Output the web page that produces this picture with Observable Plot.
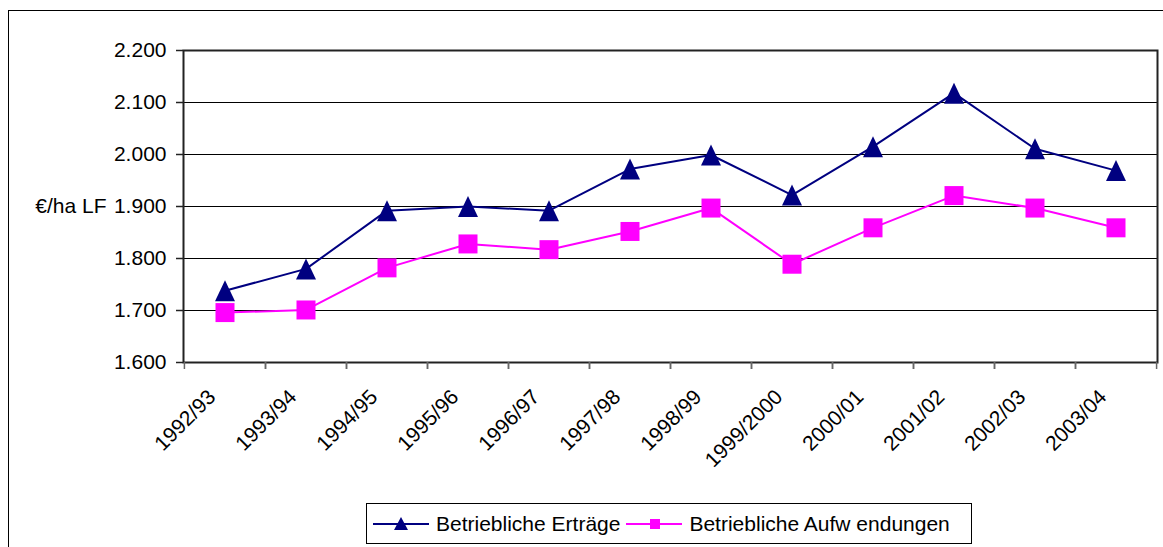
<!DOCTYPE html>
<html>
<head>
<meta charset="utf-8">
<script src="https://cdn.jsdelivr.net/npm/d3@7"></script>
<script src="https://cdn.jsdelivr.net/npm/@observablehq/plot@0.6"></script>
<style>
  html, body { margin: 0; padding: 0; background: #fff; }
  #wrap { position: relative; width: 1163px; height: 547px; overflow: hidden; font-family: "Liberation Sans", Arial, sans-serif; }
  #outer { position: absolute; left: 8px; top: 10px; width: 1200px; height: 600px; border: 1px solid #000; box-sizing: border-box; pointer-events: none; }
  #legend { position: absolute; left: 366px; top: 503px; width: 606px; height: 41px; border: 1px solid #000; box-sizing: border-box; display: flex; align-items: center; font-size: 21px; color: #000; background: #fff; }
  .item { display: flex; align-items: center; }
  .item svg { display: block; }
</style>
</head>
<body>
<div id="wrap">
  <div id="chart"></div>
  <div id="legend"></div>
  <div id="outer"></div>
</div>
<script>
const years = ["1992/93","1993/94","1994/95","1995/96","1996/97","1997/98","1998/99","1999/2000","2000/01","2001/02","2002/03","2003/04"];
const ertraege = [1738, 1780, 1892, 1900, 1892, 1972, 1999, 1922, 2015, 2118, 2011, 1969];
const aufwendungen = [1696, 1701, 1782, 1828, 1817, 1852, 1897, 1789, 1859, 1921, 1897, 1859];
const yTicks = [1600, 1700, 1800, 1900, 2000, 2100, 2200];
const seriesNames = ["Betriebliche Erträge", "Betriebliche Aufw endungen"];
const seriesColors = ["#000080", "#FF00FF"];
const yLabel = "€/ha LF";

const data = [
  ...years.map((y, i) => ({year: y, value: ertraege[i], series: seriesNames[0]})),
  ...years.map((y, i) => ({year: y, value: aufwendungen[i], series: seriesNames[1]}))
];

const triBox = {
  draw(ctx, size) {
    const w = Math.sqrt(size / Math.PI) * 2;
    const h = w * 1.05;
    ctx.moveTo(0, -h / 2);
    ctx.lineTo(w / 2, h / 2);
    ctx.lineTo(-w / 2, h / 2);
    ctx.closePath();
  }
};
const sqBox = {
  draw(ctx, size) {
    const s = Math.sqrt(size / Math.PI) * 1.9;
    ctx.rect(-s / 2, -s / 2, s, s);
  }
};

const de = d3.formatLocale({decimal: ",", thousands: ".", grouping: [3], currency: ["", "€"]});
const fmt = de.format(",");

const W = 1163, H = 498, mL = 183, mR = 6, mT = 50, mB = 136;
const bw = (W - mL - mR) / years.length;
const font = "Liberation Sans, Arial, sans-serif";

const plot = Plot.plot({
  width: W, height: H,
  marginLeft: mL, marginRight: mR, marginTop: mT, marginBottom: mB,
  style: {fontFamily: font, fontSize: "21px", color: "#000", background: "transparent", overflow: "visible"},
  x: {type: "band", domain: years, padding: 0},
  y: {domain: [1600, 2200]},
  marks: [
    Plot.gridY(yTicks, {stroke: "#000", strokeOpacity: 1, strokeWidth: 1}),
    Plot.frame({stroke: "#222", strokeWidth: 2}),
    Plot.axisY(yTicks, {tickSize: 7, tickPadding: 10, tickFormat: fmt, fontSize: 21, stroke: "#222", strokeWidth: 1.5, label: null}),
    Plot.axisX({tickSize: 7, tickFormat: () => "", dx: -bw / 2, stroke: "#666", strokeWidth: 1.5, label: null}),
    Plot.axisX({tickSize: 7, tickFormat: () => "", dx: bw / 2, stroke: "#666", strokeWidth: 1.5, label: null}),
    Plot.axisX({tickSize: 0, tickRotate: -45, tickPadding: 31, dx: -13, fontSize: 21, label: null}),
    Plot.text([yLabel], {frameAnchor: "left", textAnchor: "end", dx: -77, fontSize: 21, fill: "#000"}),
    Plot.line(data, {x: "year", y: "value", z: "series", stroke: "series", strokeWidth: 2}),
    Plot.dot(data.filter(d => d.series === seriesNames[0]), {x: "year", y: "value", symbol: () => triBox, r: 10, fill: seriesColors[0], stroke: "none"}),
    Plot.dot(data.filter(d => d.series === seriesNames[1]), {x: "year", y: "value", symbol: () => sqBox, r: 10, fill: seriesColors[1], stroke: "none"})
  ],
  color: {domain: seriesNames, range: seriesColors},
  symbol: {type: "identity"}
});
document.getElementById("chart").appendChild(plot);

// legend
const legend = document.getElementById("legend");
const legendMarks = [
  (c) => `<svg width="56" height="16"><line x1="0" y1="8" x2="56" y2="8" stroke="${c}" stroke-width="2"/><path d="M28,1 L35,14 L21,14 Z" fill="${c}"/></svg>`,
  (c) => `<svg width="56" height="16"><line x1="0" y1="8" x2="56" y2="8" stroke="${c}" stroke-width="2"/><rect x="24" y="3" width="10" height="10" fill="${c}"/></svg>`
];
seriesNames.forEach((name, i) => {
  const item = document.createElement("div");
  item.className = "item";
  item.style.marginLeft = i === 0 ? "6px" : "6px";
  item.innerHTML = legendMarks[i](seriesColors[i]) + `<span style="margin-left:7px">${name}</span>`;
  legend.appendChild(item);
});
</script>
</body>
</html>
